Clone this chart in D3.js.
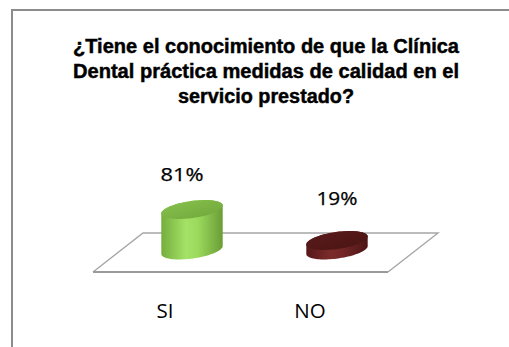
<!DOCTYPE html>
<html>
<head>
<meta charset="utf-8">
<script src="https://cdn.jsdelivr.net/npm/d3@7/dist/d3.min.js"></script>
<style>
  html, body { margin: 0; padding: 0; background: #fff; }
  svg { display: block; }
</style>
</head>
<body>
<svg id="chart" width="509" height="347"></svg>
<script>
// ---- data ----
const categories = ["SI", "NO"];
const values = [81, 19];
const valueLabels = ["81%", "19%"];
const titleLines = [
  "¿Tiene el conocimiento de que la Clínica",
  "Dental práctica medidas de calidad en el",
  "servicio prestado?"
];

// ---- styles ----
const bodyStops = [
  ["#74ad3d", "#a3e266", "#9ad95c", "#6a9d36"],
  ["#561818", "#7c2b2b", "#722626", "#4e1515"]
];
const topStops = [
  ["#8ac34f", "#6fa53a"],
  ["#5a1b1b", "#4a1414"]
];

const svg = d3.select("#chart");
const W = 509, H = 347;

// chart frame (runs off the right and bottom of the view)
svg.append("rect")
  .attr("x", 12).attr("y", 10)
  .attr("width", W + 20).attr("height", H + 20)
  .attr("fill", "#fff")
  .attr("stroke", "#8c8c8c").attr("stroke-width", 2);

// title
const titleWidths = [386, 386, 176];
svg.append("g").selectAll("text")
  .data(titleLines)
  .join("text")
  .attr("x", 266)
  .attr("y", (d, i) => 53 + i * 25)
  .attr("text-anchor", "middle")
  .attr("font-family", "'Liberation Sans Narrow', 'Arial Narrow', 'Liberation Sans', Arial, sans-serif")
  .attr("font-weight", "bold")
  .attr("font-size", 20)
  .attr("fill", "#000")
  .attr("stroke", "#000")
  .attr("stroke-width", 0.45)
  .attr("textLength", (d, i) => titleWidths[i])
  .attr("lengthAdjust", "spacingAndGlyphs")
  .text(d => d);

// ---- scales ----
const x = d3.scalePoint().domain(categories).range([192, 337]);
const h = d3.scaleLinear().domain([0, 100]).range([0, 50]);
// projected label anchor for a value (oblique view)
const labelY = d3.scaleLinear().domain([0, 100]).range([212.4, 173.7]);
const labelDx = d3.scaleLinear().domain([0, 100]).range([3, -13]);

// ---- floor (oblique parallelogram) ----
const baseY = 250;           // depth-centre line where columns stand
const floorFront = 272, floorBack = 233;
const floorL = 93, floorR = 388, skew = 50;
const floor = svg.append("g");
floor.append("path")
  .attr("d", `M${floorL},${floorFront} L${floorL + skew},${floorBack} L${floorR + skew},${floorBack} L${floorR},${floorFront}`)
  .attr("fill", "#fff")
  .attr("stroke", "#a6a6a6")
  .attr("stroke-width", 1.4);
floor.append("line")
  .attr("x1", floorL).attr("x2", floorR)
  .attr("y1", floorFront).attr("y2", floorFront)
  .attr("stroke", "#9a9a9a").attr("stroke-width", 2);

// ---- gradients ----
const defs = svg.append("defs");
categories.forEach((c, i) => {
  const gb = defs.append("linearGradient").attr("id", "body" + i)
    .attr("x1", 0).attr("x2", 1).attr("y1", 0).attr("y2", 0);
  [0, 0.4, 0.6, 1].forEach((o, k) =>
    gb.append("stop").attr("offset", o).attr("stop-color", bodyStops[i][k]));
  const gt = defs.append("linearGradient").attr("id", "top" + i)
    .attr("x1", 0).attr("x2", 1).attr("y1", 0).attr("y2", 1);
  [0, 1].forEach((o, k) =>
    gt.append("stop").attr("offset", o).attr("stop-color", topStops[i][k]));
});

// ---- cylinders ----
const rx = 31, ry = 8.5, rot = -8 * Math.PI / 180;
function ellipsePts(cx, cy) {
  return d3.range(96).map(k => {
    const t = k / 96 * 2 * Math.PI;
    const ex = rx * Math.cos(t), ey = ry * Math.sin(t);
    return [cx + ex * Math.cos(rot) - ey * Math.sin(rot),
            cy + ex * Math.sin(rot) + ey * Math.cos(rot)];
  });
}
const line = d3.line().curve(d3.curveLinearClosed);

const bars = svg.append("g").selectAll("g")
  .data(categories.map((c, i) => ({ c, v: values[i], i })))
  .join("g");

bars.append("path")
  .attr("d", d => {
    const cx = x(d.c);
    const pts = ellipsePts(cx, baseY).concat(ellipsePts(cx, baseY - h(d.v)));
    return line(d3.polygonHull(pts));
  })
  .attr("fill", d => `url(#body${d.i})`);

bars.append("path")
  .attr("d", d => line(ellipsePts(x(d.c), baseY - h(d.v))))
  .attr("fill", d => `url(#top${d.i})`);

// value labels
const valueWidths = [43, 41];
svg.append("g").selectAll("text")
  .data(categories.map((c, i) => ({ c, v: values[i], i })))
  .join("text")
  .attr("x", d => x(d.c) + labelDx(d.v))
  .attr("y", d => labelY(d.v))
  .attr("text-anchor", "middle")
  .attr("font-family", "'Open Sans', 'Liberation Sans', sans-serif")
  .attr("font-size", 18)
  .attr("fill", "#000")
  .attr("stroke", "#000")
  .attr("stroke-width", 0.25)
  .attr("textLength", d => valueWidths[d.i])
  .attr("lengthAdjust", "spacingAndGlyphs")
  .text(d => valueLabels[d.i]);

// category labels along the front edge
svg.append("g").selectAll("text")
  .data(categories)
  .join("text")
  .attr("x", d => x(d) - 27)
  .attr("y", 318)
  .attr("text-anchor", "middle")
  .attr("font-family", "'Open Sans', 'Liberation Sans', sans-serif")
  .attr("font-size", 20.5)
  .attr("fill", "#000")
  .text(d => d);
</script>
</body>
</html>
